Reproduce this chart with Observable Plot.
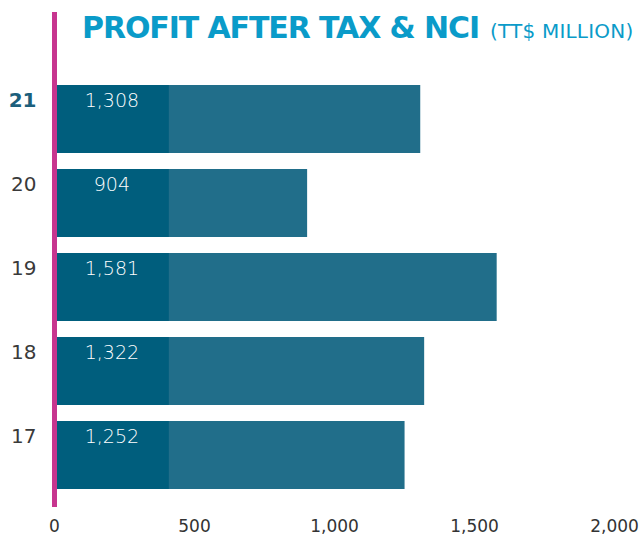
<!DOCTYPE html>
<html>
<head>
<meta charset="utf-8">
<script src="https://cdn.jsdelivr.net/npm/d3@7"></script>
<script src="https://cdn.jsdelivr.net/npm/@observablehq/plot@0.6"></script>
<style>
  html, body { margin: 0; padding: 0; background: #fff; }
  #wrap { position: relative; width: 644px; height: 536px; overflow: hidden; }
  #title { position: absolute; left: 82px; top: 10px; white-space: nowrap; color: #0a9bc9;
           font-family: "DejaVu Sans", sans-serif; }
  #title .main { font-weight: bold; font-size: 30px; letter-spacing: -1.1px; }
  #title .unit { font-weight: 400; font-size: 20px; letter-spacing: 0.2px; margin-left: 11px; }
  #chart { position: absolute; left: 0; top: 0; }
</style>
</head>
<body>
<div id="wrap">
  <div id="chart"></div>
  <div id="title"><span class="main">PROFIT AFTER TAX &amp; NCI</span><span class="unit">(TT$ MILLION)</span></div>
</div>
<script>
const years = ["21", "20", "19", "18", "17"];
const profits = [1308, 904, 1581, 1322, 1252];
const xTicks = [0, 500, 1000, 1500, 2000];

const data = years.map((y, i) => ({year: y, value: profits[i]}));
const labelBox = 410; // width of the darker label segment, in value units
const fontFamily = '"DejaVu Sans", sans-serif';

const chart = Plot.plot({
  width: 644,
  height: 536,
  marginLeft: 54,
  marginRight: 30,
  marginTop: 76,
  marginBottom: 38,
  style: {fontFamily, background: "transparent"},
  x: {domain: [0, 2000], ticks: xTicks, tickFormat: d3.format(","), label: null},
  y: {domain: years, paddingInner: 0.193, paddingOuter: 0.0965, axis: null},
  marks: [
    Plot.barX(data, {y: "year", x: "value", fill: "#216e8a"}),
    Plot.barX(data, {y: "year", x: () => labelBox, fill: "#005e7d"}),
    Plot.text(data, {y: "year", x: labelBox / 2, text: d => d3.format(",")(d.value),
      fill: "white", fontSize: 19, fontWeight: 200, dy: -19}),
    Plot.text(data.filter(d => d.year === "21"), {y: "year", x: 0, text: "year", textAnchor: "end",
      dx: -18, dy: -19, fontSize: 20, fontWeight: "bold", fill: "#1c5f7c"}),
    Plot.text(data.filter(d => d.year !== "21"), {y: "year", x: 0, text: "year", textAnchor: "end",
      dx: -18, dy: -19, fontSize: 20, fontWeight: 400, fill: "#3a3a3a"}),
    Plot.ruleX([0], {stroke: "#c7358f", strokeWidth: 5, insetTop: -64, insetBottom: -9}),
    Plot.axisX({ticks: xTicks, tickFormat: d3.format(","), tickSize: 0, tickPadding: 21,
      fontSize: 17, fill: "#333", label: null})
  ]
});
document.getElementById("chart").appendChild(chart);
</script>
</body>
</html>
